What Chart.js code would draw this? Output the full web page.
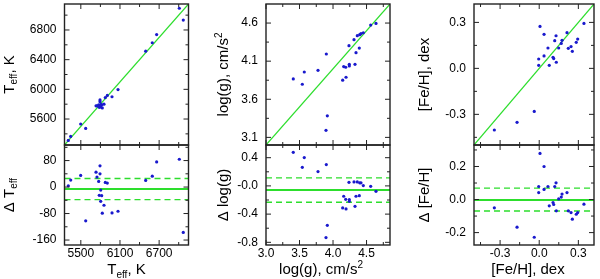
<!DOCTYPE html>
<html><head><meta charset="utf-8">
<script src="https://cdn.jsdelivr.net/npm/chart.js@4.4.0/dist/chart.umd.min.js"></script>
<style>
html,body{margin:0;padding:0;background:#fff;width:600px;height:279px;overflow:hidden}
canvas{position:absolute;left:0;top:0}
</style></head>
<body>
<canvas id="p1t" width="600" height="279"></canvas>
<canvas id="p1b" width="600" height="279"></canvas>
<canvas id="p2t" width="600" height="279"></canvas>
<canvas id="p2b" width="600" height="279"></canvas>
<canvas id="p3t" width="600" height="279"></canvas>
<canvas id="p3b" width="600" height="279"></canvas>
<script>
// ---------------- DATA ----------------
const teffRef  = [5308,5345,5498,5575,5733,5748,5774,5794,5794,5805,5783,5820,5805,5855,5829,5875,5906,5978,6070,6494,6595,6662,7009,7070];
const teffSpec = [5312,5366,5533,5473,5778,5778,5791,5858,5834,5796,5758,5794,5762,5800,5750,5889,5918,5900,5997,6514,6628,6738,7093,6933];
const teffDiff = [4,21,35,-102,45,30,17,64,40,-9,-25,-26,-43,-55,-79,14,12,-78,-73,20,33,76,84,-137];
const teffMean = -6;
const teffSigmaLines = [26,-38];

const loggRef  = [3.407,3.542,3.571,3.776,3.900,3.915,3.895,4.144,4.159,4.194,4.189,4.238,4.243,4.243,4.313,4.328,4.343,4.362,4.392,4.398,4.417,4.452,4.562,4.641];
const loggSpec = [3.867,3.797,3.958,3.980,4.194,3.383,3.192,3.850,4.029,3.889,4.020,4.303,4.037,4.059,4.382,4.059,4.212,4.434,4.272,4.447,4.460,4.473,4.573,4.595];
const loggDiff = [0.476,0.264,0.401,0.203,0.302,-0.559,-0.733,-0.312,-0.147,-0.326,-0.190,0.051,-0.218,-0.194,0.057,-0.289,-0.147,0.057,-0.138,0.043,0.043,0.004,-0.006,-0.077];
const loggMean = -0.059;
const loggSigmaLines = [0.114,-0.232];

const fehRef  = [-0.344,-0.170,-0.038,-0.004,-0.004,0.006,0.037,0.037,0.067,0.077,0.106,0.111,0.119,0.129,0.131,0.149,0.169,0.175,0.213,0.223,0.244,0.254,0.284,0.295,0.343];
const fehSpec = [-0.402,-0.352,-0.281,0.061,0.020,0.274,0.081,0.222,0.133,0.020,0.072,0.064,0.181,0.213,0.040,0.133,0.163,0.183,0.233,0.131,0.142,0.111,0.170,0.191,0.293];
const fehDiff = [-0.050,-0.167,-0.228,0.079,0.042,0.279,0.061,0.200,0.079,-0.038,-0.018,-0.030,0.079,0.101,-0.068,0.004,0.015,0.033,0.042,-0.068,-0.079,-0.119,-0.089,-0.079,-0.028];
const fehMean = -0.002;
const fehSigmaLines = [0.069,-0.069];

// axis ranges
const teffRange = [5250,7150];
const dTeffRange = [-175,127];
const loggRange = [3.0,4.85];
const dLoggRange = [-0.838,0.58];
const fehRange = [-0.5,0.42];
const dFehRange = [-0.275,0.33];

// tick labels
const teffTickX = [5500,6100,6700];      const teffTickXText = ['5500','6100','6700'];
const teffMinorX = [5500,5800,6100,6400,6700,7000];
const teffTickY = [5600,6000,6400,6800]; const teffTickYText = ['5600','6000','6400','6800'];
const teffMinorY = [5400,5600,5800,6000,6200,6400,6600,6800,7000];
const dTeffTickY = [80,0,-80,-160];      const dTeffTickYText = ['80','0','-80','-160'];
const dTeffMinorY = [-160,-120,-80,-40,0,40,80,120];

const loggTickX = [3.0,3.5,4.0,4.5];     const loggTickXText = ['3.0','3.5','4.0','4.5'];
const loggMinorX = [3.0,3.25,3.5,3.75,4.0,4.25,4.5,4.75];
const loggTickY = [3.1,3.6,4.1,4.6];     const loggTickYText = ['3.1','3.6','4.1','4.6'];
const loggMinorY = [3.1,3.35,3.6,3.85,4.1,4.35,4.6];
const dLoggTickY = [0.4,0.0,-0.4,-0.8];  const dLoggTickYText = ['0.4','-0.0','-0.4','-0.8'];
const dLoggMinorY = [-0.8,-0.6,-0.4,-0.2,0,0.2,0.4];

const fehTickX = [-0.3,0.0,0.3];         const fehTickXText = ['-0.3','0.0','0.3'];
const fehMinorX = [-0.45,-0.3,-0.15,0,0.15,0.3];
const fehTickY = [-0.3,0.0,0.3];         const fehTickYText = ['-0.3','0.0','0.3'];
const fehMinorY = [-0.45,-0.3,-0.15,0,0.15,0.3];
const dFehTickY = [0.2,0.0,-0.2];        const dFehTickYText = ['0.2','0.0','-0.2'];
const dFehMinorY = [-0.2,-0.1,0,0.1,0.2,0.3];

// ---------------- STYLE ----------------
const FONT = "'Liberation Sans', Arial, Helvetica, sans-serif";
const GREEN = 'rgb(45,222,45)';
const BLUE = 'rgb(25,25,205)';
const FRAME = '#222';
const TITLE_SIZE = 15, SUB_SIZE = 10;

function near(a,b){return Math.abs(a-b)<1e-9;}
function labelFor(vals, txt, v){ for(let i=0;i<vals.length;i++){ if(near(vals[i],v)) return txt[i]; } return ''; }
function zip(xs, ys){ return xs.map((x,i)=>({x:x, y:ys[i]})); }

function drawRich(ctx, parts, x, y, rot){
  ctx.save();
  ctx.translate(x,y);
  if(rot) ctx.rotate(-Math.PI/2);
  let total=0;
  parts.forEach(p=>{ ctx.font = p.s+'px '+FONT; p.w = ctx.measureText(p.t).width; total+=p.w; });
  let cx=-total/2;
  ctx.textAlign='left'; ctx.textBaseline='alphabetic'; ctx.fillStyle='#000';
  parts.forEach(p=>{ ctx.font = p.s+'px '+FONT; ctx.fillText(p.t, cx, p.dy||0); cx+=p.w; });
  ctx.restore();
}

function makePanel(id, o){
  const YW = 40, XH = 30;
  const xH = o.showX ? XH : 0;
  const padding = {left:o.L-YW, right:600-o.R, top:o.T, bottom:279-o.B-xH};
  const ds = [];
  o.lines.forEach(l=>ds.push({data:l.pts, showLine:true, borderColor:GREEN, borderWidth:l.w, borderDash:l.dash||[], pointRadius:0, order:2}));
  ds.push({data:o.pts, pointRadius:1.6, pointBackgroundColor:BLUE, backgroundColor:BLUE, pointBorderWidth:0, borderWidth:0, order:1});
  const frame = {
    id:'frame'+id,
    afterDraw(chart){
      const ctx = chart.ctx;
      const {left,right,top,bottom} = chart.chartArea;
      const xs = chart.scales.x, ys = chart.scales.y;
      ctx.save();
      ctx.strokeStyle = FRAME; ctx.lineWidth = 1;
      const seg=(a,b,c,d)=>{ctx.beginPath();ctx.moveTo(a,b);ctx.lineTo(c,d);ctx.stroke();};
      o.xMinor.forEach(v=>{
        const p = xs.getPixelForValue(v);
        const len = o.xLab.some(l=>near(l,v)) ? 5 : 3;
        seg(p,bottom,p,bottom-len); seg(p,top,p,top+len);
      });
      o.yMinor.forEach(v=>{
        const p = ys.getPixelForValue(v);
        const len = o.yLab.some(l=>near(l,v)) ? 5 : 3;
        seg(left,p,left+len,p); seg(right,p,right-len,p);
      });
      ctx.lineWidth = 1.4;
      ctx.strokeRect(left,top,right-left,bottom-top);
      ctx.restore();
      if(o.yTitle) drawRich(ctx, o.yTitle.parts, o.yTitle.x, (top+bottom)/2, true);
      if(o.xTitle) drawRich(ctx, o.xTitle.parts, o.xTitle.x, o.xTitle.y, false);
    }
  };
  new Chart(document.getElementById(id), {
    type:'scatter',
    data:{datasets:ds},
    options:{
      responsive:false, animation:false, devicePixelRatio:1,
      layout:{padding:padding},
      plugins:{legend:{display:false}, tooltip:{enabled:false}},
      scales:{
        x:{type:'linear', min:o.xr[0], max:o.xr[1], display:o.showX,
           grid:{display:false, drawTicks:false}, border:{display:false},
           afterBuildTicks:s=>{ s.ticks = o.xLab.map(v=>({value:v})); },
           ticks:{autoSkip:false, maxRotation:0, minRotation:0, padding:1, color:'#000', font:{family:FONT,size:12},
                  callback:v=>labelFor(o.xLab,o.xTxt,v)},
           afterFit:s=>{ s.height = xH; s.paddingLeft=s.paddingRight=s.paddingTop=s.paddingBottom=0; }},
        y:{type:'linear', min:o.yr[0], max:o.yr[1],
           grid:{display:false, drawTicks:false}, border:{display:false},
           afterBuildTicks:s=>{ s.ticks = o.yLab.map(v=>({value:v})); },
           ticks:{autoSkip:false, padding:8, color:'#000', font:{family:FONT,size:12},
                  callback:v=>labelFor(o.yLab,o.yTxt,v)},
           afterFit:s=>{ s.width = YW; s.paddingLeft=s.paddingRight=s.paddingTop=s.paddingBottom=0; }}
      }
    },
    plugins:[frame]
  });
}

const tTitle = [{t:'T',s:TITLE_SIZE},{t:'eff',s:SUB_SIZE,dy:3.5},{t:', K',s:TITLE_SIZE}];
const dtTitle = [{t:'\u0394 T',s:TITLE_SIZE},{t:'eff',s:SUB_SIZE,dy:3.5}];
const gTitle = [{t:'log(g), cm/s',s:TITLE_SIZE},{t:'2',s:SUB_SIZE,dy:-6}];
const dgTitle = [{t:'\u0394 log(g)',s:TITLE_SIZE}];
const fTitle = [{t:'[Fe/H], dex',s:TITLE_SIZE}];
const dfTitle = [{t:'\u0394 [Fe/H]',s:TITLE_SIZE}];

const hline = (r, y) => [{x:r[0], y:y},{x:r[1], y:y}];

// Panel 1
makePanel('p1t', {L:64.5, R:188.5, T:3.5, B:145, showX:false,
  xr:teffRange, yr:teffRange, xLab:teffTickX, xTxt:teffTickXText, xMinor:teffMinorX,
  yLab:teffTickY, yTxt:teffTickYText, yMinor:teffMinorY,
  pts:zip(teffRef,teffSpec),
  lines:[{pts:[{x:teffRange[0],y:teffRange[0]},{x:teffRange[1],y:teffRange[1]}], w:1.2}],
  yTitle:{parts:tTitle, x:13.5}});
makePanel('p1b', {L:64.5, R:188.5, T:145, B:245, showX:true,
  xr:teffRange, yr:dTeffRange, xLab:teffTickX, xTxt:teffTickXText, xMinor:teffMinorX,
  yLab:dTeffTickY, yTxt:dTeffTickYText, yMinor:dTeffMinorY,
  pts:zip(teffRef,teffDiff),
  lines:[{pts:hline(teffRange,teffMean), w:2},
         {pts:hline(teffRange,teffSigmaLines[0]), w:1.4, dash:[6,4]},
         {pts:hline(teffRange,teffSigmaLines[1]), w:1.4, dash:[6,4]}],
  yTitle:{parts:dtTitle, x:13.5}, xTitle:{parts:tTitle, x:126.5, y:274}});

// Panel 2
makePanel('p2t', {L:266, R:390, T:3.5, B:145, showX:false,
  xr:loggRange, yr:loggRange, xLab:loggTickX, xTxt:loggTickXText, xMinor:loggMinorX,
  yLab:loggTickY, yTxt:loggTickYText, yMinor:loggMinorY,
  pts:zip(loggRef,loggSpec),
  lines:[{pts:[{x:loggRange[0],y:loggRange[0]},{x:loggRange[1],y:loggRange[1]}], w:1.2}],
  yTitle:{parts:gTitle, x:227.5}});
makePanel('p2b', {L:266, R:390, T:145, B:245, showX:true,
  xr:loggRange, yr:dLoggRange, xLab:loggTickX, xTxt:loggTickXText, xMinor:loggMinorX,
  yLab:dLoggTickY, yTxt:dLoggTickYText, yMinor:dLoggMinorY,
  pts:zip(loggRef,loggDiff),
  lines:[{pts:hline(loggRange,loggMean), w:2},
         {pts:hline(loggRange,loggSigmaLines[0]), w:1.4, dash:[6,4]},
         {pts:hline(loggRange,loggSigmaLines[1]), w:1.4, dash:[6,4]}],
  yTitle:{parts:dgTitle, x:227.5}, xTitle:{parts:gTitle, x:321, y:274}});

// Panel 3
makePanel('p3t', {L:474, R:594, T:3.5, B:145, showX:false,
  xr:fehRange, yr:fehRange, xLab:fehTickX, xTxt:fehTickXText, xMinor:fehMinorX,
  yLab:fehTickY, yTxt:fehTickYText, yMinor:fehMinorY,
  pts:zip(fehRef,fehSpec),
  lines:[{pts:[{x:fehRange[0],y:fehRange[0]},{x:fehRange[1],y:fehRange[1]}], w:1.2}],
  yTitle:{parts:fTitle, x:428.5}});
makePanel('p3b', {L:474, R:594, T:145, B:245, showX:true,
  xr:fehRange, yr:dFehRange, xLab:fehTickX, xTxt:fehTickXText, xMinor:fehMinorX,
  yLab:dFehTickY, yTxt:dFehTickYText, yMinor:dFehMinorY,
  pts:zip(fehRef,fehDiff),
  lines:[{pts:hline(fehRange,fehMean), w:2},
         {pts:hline(fehRange,fehSigmaLines[0]), w:1.4, dash:[6,4]},
         {pts:hline(fehRange,fehSigmaLines[1]), w:1.4, dash:[6,4]}],
  yTitle:{parts:dfTitle, x:428.5}, xTitle:{parts:fTitle, x:528, y:274}});
</script>
</body></html>
